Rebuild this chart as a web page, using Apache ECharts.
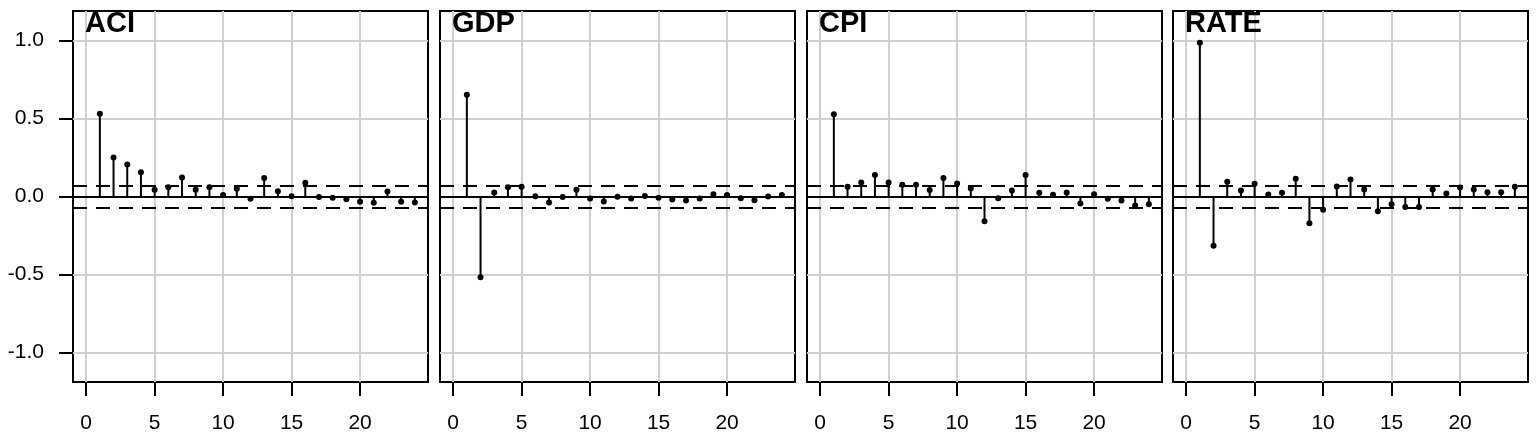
<!DOCTYPE html>
<html>
<head>
<meta charset="utf-8">
<script src="https://cdn.jsdelivr.net/npm/echarts@6/dist/echarts.min.js"></script>
<style>
  html, body { margin: 0; padding: 0; background: #fff; }
  #chart { width: 1540px; height: 440px; }
</style>
</head>
<body>
<div id="chart"></div>
<script>
// lags shown in every panel
const lags = [1, 2, 3, 4, 5, 6, 7, 8, 9, 10, 11, 12, 13, 14, 15, 16, 17, 18, 19, 20, 21, 22, 23, 24];

// autocorrelation per variable
const aci = [0.53, 0.25, 0.205, 0.156, 0.043, 0.06, 0.122, 0.043, 0.06, 0.01, 0.05, -0.015,
  0.118, 0.034, 0.002, 0.088, -0.004, -0.008, -0.017, -0.034, -0.04, 0.032, -0.034, -0.038];
const gdp = [0.652, -0.517, 0.026, 0.06, 0.062, 0.002, -0.038, -0.004, 0.043, -0.013, -0.032, -0.002,
  -0.013, 0.004, -0.008, -0.019, -0.026, -0.013, 0.015, 0.009, -0.011, -0.024, 0.0, 0.009];
const cpi = [0.526, 0.062, 0.09, 0.137, 0.09, 0.075, 0.075, 0.041, 0.118, 0.083, 0.051, -0.158,
  -0.011, 0.038, 0.137, 0.024, 0.011, 0.026, -0.045, 0.015, -0.015, -0.026, -0.058, -0.049];
const rate = [0.985, -0.316, 0.094, 0.038, 0.081, 0.013, 0.024, 0.113, -0.171, -0.085, 0.064, 0.109,
  0.045, -0.094, -0.049, -0.068, -0.068, 0.045, 0.019, 0.058, 0.045, 0.028, 0.028, 0.062];

const panelNames = ['ACI', 'GDP', 'CPI', 'RATE'];
const panelValues = [aci, gdp, cpi, rate];

const xTicks = [0, 5, 10, 15, 20];
const yTicks = [-1, -0.5, 0, 0.5, 1];
const ciBound = 0.07;

const FONT = "'Liberation Sans', Arial, Helvetica, sans-serif";
const panelLeft = [73, 440, 807, 1173];
const panelWidth = 355;

// stem + dot for each lag
function renderStem(params, api) {
  const x = api.value(0);
  const y = api.value(1);
  const p0 = api.coord([x, 0]);
  const p1 = api.coord([x, y]);
  return {
    type: 'group',
    children: [
      {
        type: 'line',
        shape: { x1: p0[0], y1: p0[1], x2: p1[0], y2: p1[1] },
        style: { stroke: '#000', lineWidth: 2 },
      },
      {
        type: 'circle',
        shape: { cx: p1[0], cy: p1[1], r: 3 },
        style: { fill: '#000' },
      },
    ],
  };
}

const grids = [];
const xAxes = [];
const yAxes = [];
const series = [];
const titles = [];

panelNames.forEach((name, i) => {
  grids.push({
    left: panelLeft[i],
    width: panelWidth,
    top: 11,
    height: 371,
    show: true,
    borderColor: '#000',
    borderWidth: 2,
    backgroundColor: 'transparent',
  });
  xAxes.push({
    type: 'value',
    gridIndex: i,
    min: -0.96,
    max: 24.96,
    axisLine: { show: false, onZero: false },
    axisTick: {
      show: true,
      customValues: xTicks,
      length: 14,
      lineStyle: { color: '#000', width: 2 },
    },
    axisLabel: {
      customValues: xTicks,
      margin: 31,
      color: '#000',
      fontSize: 21,
      fontFamily: FONT,
    },
    splitLine: { show: true, lineStyle: { color: '#d0d0d0', width: 2 } },
  });
  yAxes.push({
    type: 'value',
    gridIndex: i,
    min: -1.188,
    max: 1.188,
    axisLine: { show: false, onZero: false },
    axisTick: {
      show: i === 0,
      customValues: yTicks,
      length: 14,
      lineStyle: { color: '#000', width: 2 },
    },
    axisLabel: {
      show: i === 0,
      customValues: yTicks,
      margin: 29,
      color: '#000',
      fontSize: 21,
      fontFamily: FONT,
      formatter: (v) => v.toFixed(1),
    },
    splitLine: { show: true, lineStyle: { color: '#d0d0d0', width: 2 } },
  });
  series.push({
    type: 'custom',
    xAxisIndex: i,
    yAxisIndex: i,
    renderItem: renderStem,
    encode: { x: 0, y: 1 },
    data: lags.map((l, k) => [l, panelValues[i][k]]),
    z: 3,
    markLine: {
      silent: true,
      symbol: 'none',
      animation: false,
      label: { show: false },
      lineStyle: { color: '#000', width: 2 },
      data: [
        { yAxis: 0, lineStyle: { type: 'solid' } },
        { yAxis: ciBound, lineStyle: { type: [14, 9] } },
        { yAxis: -ciBound, lineStyle: { type: [14, 9] } },
      ],
    },
  });
  titles.push({
    text: name,
    left: panelLeft[i] + 12,
    top: 9,
    padding: 0,
    textStyle: {
      color: '#000',
      fontSize: 29,
      fontWeight: 'bold',
      fontFamily: FONT,
    },
  });
});

const chart = echarts.init(document.getElementById('chart'), null, { renderer: 'canvas' });
chart.setOption({
  animation: false,
  backgroundColor: '#fff',
  title: titles,
  grid: grids,
  xAxis: xAxes,
  yAxis: yAxes,
  series: series,
});
</script>
</body>
</html>
